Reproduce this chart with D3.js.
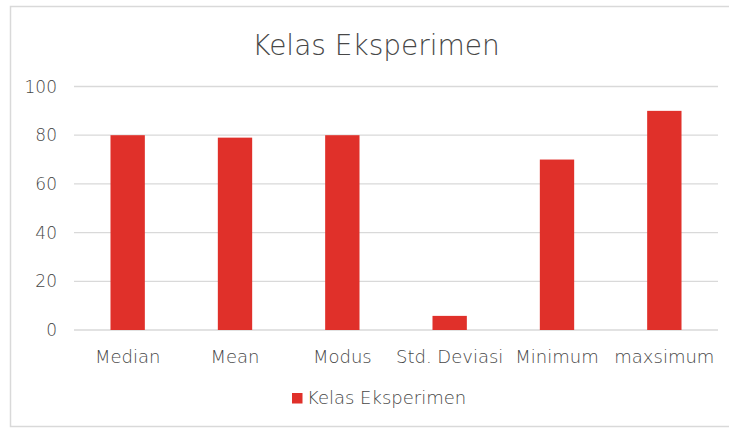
<!DOCTYPE html>
<html>
<head>
<meta charset="utf-8">
<script src="https://cdn.jsdelivr.net/npm/d3@7"></script>
<style>
  body { margin: 0; background: #fff; }
  text { font-family: "DejaVu Sans", sans-serif; font-weight: 200; fill: #474747; }
</style>
</head>
<body>
<div id="chart"></div>
<script>
var categories = ["Median", "Mean", "Modus", "Std. Deviasi", "Minimum", "maxsimum"];
var values = [80, 79, 80, 5.8, 70, 90];
var yTicks = [0, 20, 40, 60, 80, 100];
var seriesName = "Kelas Eksperimen";
var title = "Kelas Eksperimen";

var width = 729, height = 428;
var margin = { left: 74, right: 11, top: 86.5, bottom: 98 };
var color = "#E0302A";

var svg = d3.select("#chart").append("svg")
  .attr("width", width)
  .attr("height", height);

// chart frame (right edge runs off the picture)
svg.append("rect")
  .attr("x", 10.5).attr("y", 6.5)
  .attr("width", 740).attr("height", 420)
  .style("fill", "#fff")
  .style("stroke", "#d9d9d9")
  .style("stroke-width", 1.5);

var x = d3.scaleBand()
  .domain(categories)
  .range([margin.left, width - margin.right])
  .paddingInner(0.68)
  .paddingOuter(0.34);

var y = d3.scaleLinear()
  .domain([0, 100])
  .range([height - margin.bottom, margin.top]);

// gridlines
svg.append("g").selectAll("line")
  .data(yTicks)
.enter().append("line")
  .attr("x1", margin.left)
  .attr("x2", width - margin.right)
  .attr("y1", function (d) { return y(d); })
  .attr("y2", function (d) { return y(d); })
  .style("stroke", "#d9d9d9")
  .style("stroke-width", 1.3);

// y labels
svg.append("g").selectAll("text")
  .data(yTicks)
.enter().append("text")
  .attr("x", 57)
  .attr("y", function (d) { return y(d); })
  .attr("dy", ".36em")
  .style("text-anchor", "end")
  .style("font-size", "17px")
  .text(function (d) { return d; });

// bars
svg.append("g").selectAll("rect")
  .data(values)
.enter().append("rect")
  .attr("x", function (d, i) { return x(categories[i]); })
  .attr("width", x.bandwidth())
  .attr("y", function (d) { return y(d); })
  .attr("height", function (d) { return y(0) - y(d); })
  .style("fill", color);

// x labels
svg.append("g").selectAll("text")
  .data(categories)
.enter().append("text")
  .attr("x", function (d) { return x(d) + x.bandwidth() / 2; })
  .attr("y", 362.5)
  .style("text-anchor", "middle")
  .style("font-size", "18px")
  .text(function (d) { return d; });

// title
svg.append("text")
  .attr("x", 376)
  .attr("y", 55)
  .style("text-anchor", "middle")
  .style("font-size", "28px")
  .text(title);

// legend
var legend = svg.append("g");
legend.append("rect")
  .attr("x", 292).attr("y", 393)
  .attr("width", 10.5).attr("height", 10.5)
  .style("fill", color);
legend.append("text")
  .attr("x", 307).attr("y", 404)
  .style("font-size", "18px")
  .text(seriesName);
</script>
</body>
</html>
